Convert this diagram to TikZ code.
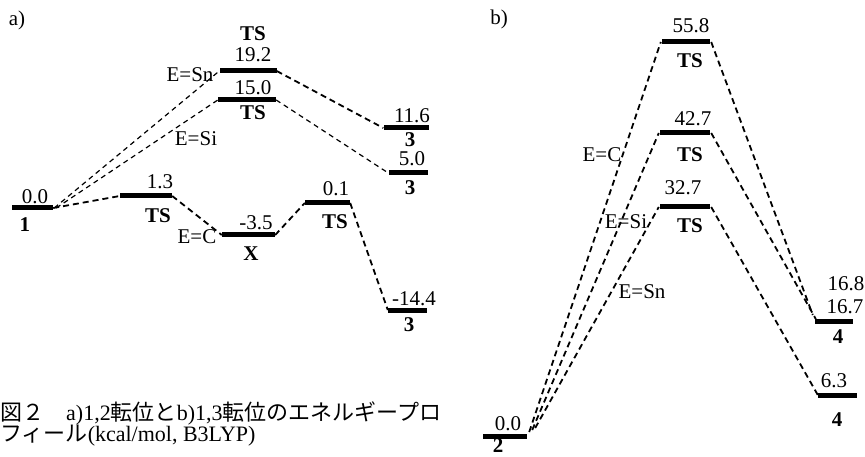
\documentclass[tikz,border=0pt]{standalone}
\usepackage{fontspec}
\setmainfont{Liberation Serif}
\newfontfamily\jpfont{Noto Sans CJK JP}
\begin{document}
\begin{tikzpicture}[x=1pt,y=-1pt,
  bar/.style={fill=black, inner sep=0pt, minimum height=5pt},
  lbl/.style={inner sep=0pt, font=\fontsize{21}{24}\selectfont},
  blbl/.style={inner sep=0pt, font=\fontsize{21}{24}\selectfont\bfseries},
  captext/.style={inner sep=0pt, anchor=base west, font=\fontsize{22}{24}\selectfont},
  cn/.style={dash pattern=on 6pt off 4pt, line width=1.8pt},
  cnthin/.style={dash pattern=on 5pt off 4pt, line width=1.2pt}]
\useasboundingbox (0,0) rectangle (865,457);

% ---------------- panel a ----------------
\node[lbl] (pa) at (17,20) {a)};

\node[bar, minimum width=41pt] (a1)   at (32.5,208) {};
\node[bar, minimum width=52pt] (aT1)  at (146,196) {};
\node[bar, minimum width=53pt] (aX)   at (248.5,235) {};
\node[bar, minimum width=45pt] (aT2)  at (327.5,203) {};
\node[bar, minimum width=39pt] (aP1)  at (407.5,310) {};
\node[bar, minimum width=57pt] (aSn)  at (248,71) {};
\node[bar, minimum width=58pt] (aSi)  at (247,100) {};
\node[bar, minimum width=45pt] (aP2)  at (406,128) {};
\node[bar, minimum width=39pt] (aP3)  at (408,173) {};

\node[lbl]  (la1)  at (35,197) {0.0};
\node[blbl] (na1)  at (25,225) {1};
\node[lbl]  (laT1) at (160,182) {1.3};
\node[blbl] (naT1) at (158,216) {TS};
\node[lbl]  (laX)  at (256,223) {-3.5};
\node[blbl] (naX)  at (251,254) {X};
\node[lbl]  (eaC)  at (197,237) {E=C};
\node[lbl]  (laT2) at (336,189) {0.1};
\node[blbl] (naT2) at (335,222) {TS};
\node[lbl]  (laP1) at (414,299) {-14.4};
\node[blbl] (naP1) at (409,325) {3};
\node[blbl] (naSn) at (253,34) {TS};
\node[lbl]  (laSn) at (253,55) {19.2};
\node[lbl]  (eaSn) at (190,75) {E=Sn};
\node[lbl]  (laSi) at (253,88) {15.0};
\node[blbl] (naSi) at (253,113) {TS};
\node[lbl]  (eaSi) at (196,139) {E=Si};
\node[lbl]  (laP2) at (412,116) {11.6};
\node[blbl] (naP2) at (410,140) {3};
\node[lbl]  (laP3) at (412,159) {5.0};
\node[blbl] (naP3) at (410,188) {3};

\draw[cn] (a1.east) -- (aT1.west);
\draw[cn] (aT1.east) -- (aX.west);
\draw[cn] (aX.east) -- (aT2.west);
\draw[cn] (aT2.east) -- (aP1.west);
\draw[cnthin] ([xshift=1pt]a1.east) -- (aSn.west);
\draw[cn] (aSn.east) -- (aP2.west);
\draw[cnthin] ([xshift=3pt]a1.east) -- (aSi.west);
\draw[cnthin] (aSi.east) -- (aP3.west);

% ---------------- panel b ----------------
\node[lbl] (pb) at (499,19) {b)};

\node[bar, minimum width=44pt] (b2)  at (505,436) {};
\node[bar, minimum width=48pt] (bC)  at (686,42) {};
\node[bar, minimum width=50pt] (bSi) at (685,133) {};
\node[bar, minimum width=50pt] (bSn) at (685,207) {};
\node[bar, minimum width=38pt] (bP1) at (834,321) {};
\node[bar, minimum width=39pt] (bP2) at (837.5,395) {};

\node[lbl]  (lb2)  at (508,424) {0.0};
\node[blbl] (nb2)  at (498,446) {2};
\node[lbl]  (lbC)  at (691,26) {55.8};
\node[blbl] (nbC)  at (690,61) {TS};
\node[lbl]  (lbSi) at (693,119) {42.7};
\node[blbl] (nbSi) at (690,155) {TS};
\node[lbl]  (lbSn) at (683,188) {32.7};
\node[blbl] (nbSn) at (690,226) {TS};
\node[lbl]  (ebC)  at (602,155) {E=C};
\node[lbl]  (ebSi) at (626,222) {E=Si};
\node[lbl]  (ebSn) at (642,292) {E=Sn};
\node[lbl]  (lbP1a) at (846,284) {16.8};
\node[lbl]  (lbP1b) at (845,307) {16.7};
\node[blbl] (nbP1) at (838,337) {4};
\node[lbl]  (lbP2) at (834,381) {6.3};
\node[blbl] (nbP2) at (837,420) {4};

\draw[cn] ([xshift=2pt,yshift=4pt]b2.east) -- ([xshift=-1pt]bC.west);
\draw[cn] ([xshift=5pt,yshift=6pt]b2.east) -- ([xshift=-1pt]bSi.west);
\draw[cn] ([xshift=8pt,yshift=8pt]b2.east) -- ([xshift=-1pt]bSn.west);
\draw[cn] ([xshift=1pt]bC.east) -- ([xshift=-2pt,yshift=6pt]bP1.west);
\draw[cn] ([xshift=1pt]bSi.east) -- ([xshift=1pt,yshift=2pt]bP1.west);
\draw[cn] ([xshift=1pt]bSn.east) -- (bP2.west);

% ---------------- caption ----------------
\node[captext] (c1) at (0,420) {{\jpfont 図２　}a)1,2{\jpfont 転位と}b)1,3{\jpfont 転位のエネルギープロ}};
\node[captext] (c2) at (0,441) {{\jpfont フィール}(kcal/mol, B3LYP)};
\end{tikzpicture}
\end{document}
